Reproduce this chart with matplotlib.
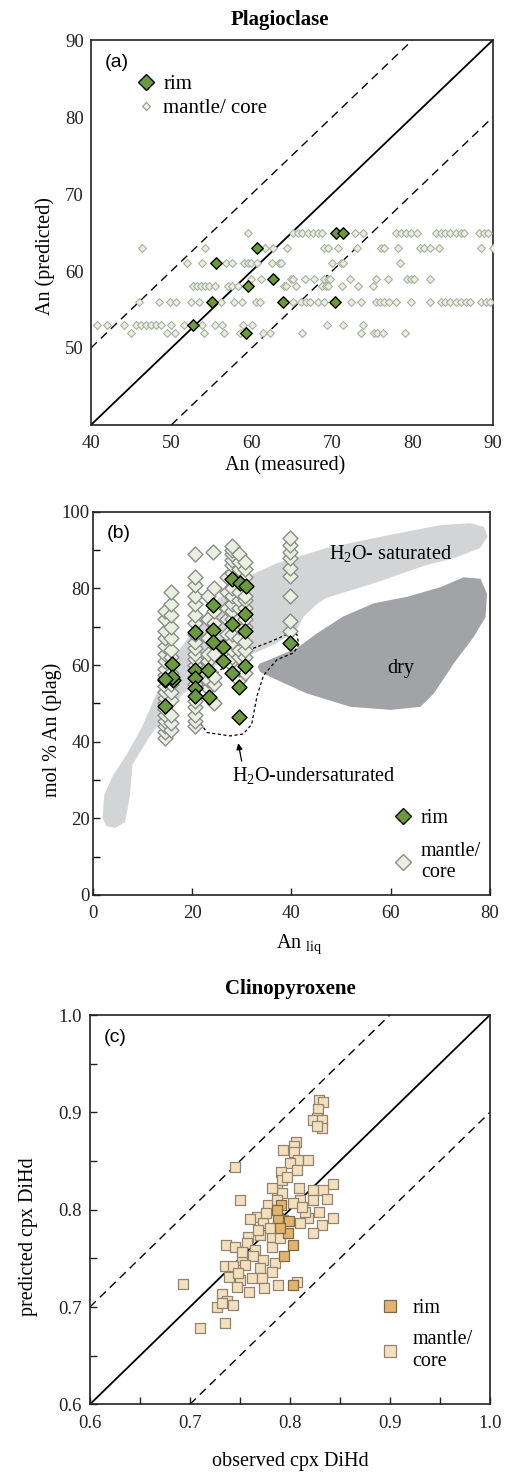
import matplotlib
matplotlib.use('Agg')
import matplotlib.pyplot as plt
from matplotlib.lines import Line2D
from matplotlib.patches import Polygon

plt.rcParams['font.family'] = 'Liberation Serif'
plt.rcParams['mathtext.fontset'] = 'custom'
plt.rcParams['mathtext.rm'] = 'Liberation Serif'
plt.rcParams['mathtext.it'] = 'Liberation Serif:italic'

# ---- (a) plagioclase: predicted vs measured An ----
# mantle/core analyses sit on discrete predicted levels
core_levels = [65, 63, 61, 59, 58, 56, 53, 52]
core_meas = [
    [59.5, 65.1, 65.7, 66.3, 67.0, 67.6, 68.2, 68.8, 70.5, 72.9, 73.9, 78.0, 78.6,
     79.2, 79.8, 80.5, 82.9, 83.5, 84.1, 84.7, 85.4, 86.0, 86.4, 88.3, 88.9, 89.4],
    [46.4, 54.2, 61.6, 62.6, 64.4, 69.0, 69.5, 70.7, 73.1, 76.1, 76.4, 78.2, 80.9,
     81.4, 82.2, 83.3, 88.5, 90.0],
    [52.0, 53.8, 56.8, 57.6, 59.1, 59.5, 59.9, 60.6, 62.5, 63.4, 63.7, 70.0, 71.1,
     71.4, 78.4],
    [59.9, 61.1, 64.9, 65.2, 66.6, 67.8, 69.0, 69.5, 69.8, 72.2, 75.5, 76.9, 79.3,
     79.8, 80.2, 82.2],
    [52.7, 53.2, 53.7, 54.2, 54.7, 55.4, 57.1, 57.6, 58.3, 64.0, 64.3, 65.5, 68.8,
     69.3, 69.5, 71.2, 73.2, 75.1],
    [46.0, 48.5, 49.8, 50.6, 52.4, 53.5, 56.2, 57.8, 58.8, 60.5, 61.0, 65.1, 66.1,
     66.8, 67.2, 68.2, 69.0, 72.4, 73.6, 75.5, 76.0, 76.5, 77.1, 78.0, 79.8, 82.2,
     83.5, 84.1, 84.7, 85.4, 86.0, 86.6, 87.2, 88.5, 89.1, 89.6],
    [40.8, 42.0, 44.1, 45.6, 46.2, 46.8, 47.5, 48.1, 48.7, 50.0, 51.6, 53.8, 55.4,
     56.3, 58.9, 60.1, 69.4, 71.3, 73.8],
    [45.0, 49.5, 50.4, 54.1, 56.5, 58.5, 61.4, 62.3, 66.3, 73.6, 75.2, 75.6, 76.3,
     79.1],
]
rim_meas = [70.5, 71.3, 60.7, 55.6, 62.7, 59.5, 55.1, 63.9, 70.4, 52.7, 59.3]
rim_pred = [65.0, 65.0, 63.0, 61.0, 59.0, 58.0, 56.0, 56.0, 56.0, 53.0, 52.0]

# ---- (b) An plag vs An liquid ----
rim_liq = [14.6, 15.9, 16.1, 14.6, 20.6, 20.6, 20.6, 20.6, 20.6, 23.3, 23.5, 24.3,
           24.3, 24.3, 26.3, 26.3, 28.0, 29.7, 30.9, 28.0, 30.6, 30.6, 30.6, 28.0,
           29.4, 29.4, 39.8, 15.9, 14.6]
rim_plag = [56.0, 60.3, 56.0, 49.2, 68.7, 58.7, 56.6, 54.0, 52.0, 58.7, 51.7, 75.7,
            69.2, 66.1, 64.8, 61.0, 82.5, 81.4, 80.5, 70.8, 73.2, 68.8, 59.8, 58.0,
            54.2, 46.5, 65.8, 56.8, 56.4]
core_liq = [
    14.6, 14.6, 14.6, 14.6, 14.6, 14.6, 14.6, 14.6, 14.6, 14.6, 14.6, 14.6, 14.6,
    14.6, 14.6, 14.6, 14.6, 14.6, 14.6,
    15.8, 15.8, 15.8, 15.8, 15.8, 15.8, 15.8, 15.8, 15.8, 15.8, 15.8, 15.8, 15.8, 15.8,
    20.6, 20.6, 20.6, 20.6, 20.6, 20.6, 20.6, 20.6, 20.6, 20.6, 20.6, 20.6, 20.6,
    20.6, 20.6, 20.6, 20.6, 20.6, 20.6, 20.6,
    23.3, 23.3, 23.3, 23.3, 23.3, 23.3, 23.3, 24.3,
    24.5, 24.5, 24.5, 24.5, 24.5, 24.5, 24.5,
    27.0, 27.0, 27.0, 27.0, 27.0, 27.0, 27.0,
    28.0, 28.0, 28.0, 28.0, 28.0, 28.0, 28.0, 28.0, 28.0, 28.0, 28.0, 28.0, 28.0,
    28.0, 28.0, 28.0,
    29.4, 29.4, 29.4, 29.4, 29.4, 29.4, 29.4, 29.4, 29.4, 29.4, 29.4, 29.4, 29.4, 29.4,
    30.7, 30.7, 30.7, 30.7, 30.7, 30.7, 30.7, 30.7, 30.7, 30.7, 30.7, 30.7,
    39.8, 39.8, 39.8, 39.8, 39.8, 39.8, 39.8, 39.8, 39.8,
]
core_plag = [
    41, 42.5, 44, 45.5, 47, 48.5, 50, 51.5, 53, 54.5, 57.5, 59, 61, 63, 65, 67, 69,
    72, 74,
    43, 45, 47, 51, 53, 55, 58, 62, 64, 67, 70, 73, 76, 79,
    44, 45.5, 47, 49, 50.5, 55, 57, 60, 61.5, 63, 64.5, 66, 68, 71, 73, 76, 78, 81,
    83, 89,
    54, 56, 61, 63, 67, 72, 78, 89.5,
    50, 55, 57, 63, 71, 74, 80,
    62, 66, 68, 72, 75, 79, 83,
    60, 62, 64, 66, 68, 72, 74, 76, 78, 80, 84, 86, 87.5, 89, 90, 91,
    56, 59, 62, 64, 67, 70, 72, 75, 77, 79, 83, 85, 87, 89,
    58, 62, 64, 66, 70, 72, 75, 77, 78, 83, 85, 87,
    68.8, 71.4, 77.9, 83.1, 85.3, 87.9, 89.6, 91.4, 93.1,
]

# experimental fields (An liq, An plag)
sat_x = [2.0, 2.3, 4.0, 7.0, 10.0, 13.0, 17.5, 24.0, 31.0, 37.0, 47.0, 60.0, 70.0,
         76.0, 78.8, 79.5, 78.0, 73.0, 67.0, 57.0, 47.0, 45.0, 42.5, 41.0, 37.0,
         33.0, 25.0, 20.4, 17.9, 14.6, 11.3, 8.0, 7.5, 6.5, 4.5, 2.8]
sat_y = [20.0, 26.0, 31.0, 37.0, 44.0, 53.0, 64.0, 76.0, 83.0, 86.5, 90.5, 94.0,
         96.5, 97.0, 96.0, 93.5, 90.5, 88.0, 86.0, 81.5, 77.5, 75.7, 72.7, 69.0,
         65.7, 63.3, 60.0, 55.0, 52.0, 47.0, 41.0, 34.0, 26.0, 19.0, 17.5, 18.0]
dry_x = [33.7, 37.1, 41.1, 45.2, 50.5, 56.6, 63.3, 70.0, 74.7, 78.1, 79.4, 79.1,
         76.7, 72.7, 68.7, 66.0, 60.0, 51.9, 43.1, 37.1, 33.7, 33.2]
dry_y = [60.4, 62.2, 64.4, 68.3, 72.7, 76.1, 77.8, 80.3, 82.9, 82.5, 78.6, 72.5,
         67.3, 60.4, 52.6, 49.1, 48.3, 49.1, 52.6, 56.1, 58.2, 59.5]
under_x = [21.6, 20.9, 23.0, 27.7, 30.3, 32.0, 33.1, 34.4, 37.1, 40.5, 41.5, 41.1,
           39.1, 35.8, 32.4, 29.0, 25.5, 21.6]
under_y = [53.3, 46.3, 42.4, 41.5, 42.0, 44.5, 52.0, 57.3, 61.4, 63.2, 65.4, 68.0,
           68.0, 66.1, 64.4, 61.9, 58.5, 53.3]

# ---- (c) clinopyroxene DiHd ----
cpx_rim_obs = [0.791, 0.788, 0.799, 0.798, 0.803, 0.794, 0.803, 0.787, 0.790]
cpx_rim_pred = [0.805, 0.791, 0.788, 0.776, 0.764, 0.752, 0.723, 0.800, 0.781]
cpx_core_obs = [
    0.829, 0.833, 0.828, 0.827, 0.823, 0.832, 0.832, 0.827, 0.806, 0.804, 0.793,
    0.804, 0.808, 0.818, 0.800, 0.745, 0.791, 0.792, 0.787, 0.792, 0.809, 0.843,
    0.823, 0.833, 0.750, 0.778, 0.810, 0.823, 0.837, 0.803, 0.829, 0.818, 0.843,
    0.767, 0.760, 0.773, 0.810, 0.832, 0.823, 0.758, 0.770, 0.782, 0.736, 0.745,
    0.757, 0.765, 0.782, 0.790, 0.752, 0.763, 0.773, 0.785, 0.735, 0.743, 0.755,
    0.770, 0.782, 0.739, 0.750, 0.762, 0.772, 0.693, 0.747, 0.759, 0.774, 0.788,
    0.807, 0.732, 0.737, 0.743, 0.727, 0.710, 0.735, 0.732, 0.793, 0.787, 0.782,
    0.797, 0.807, 0.776, 0.780, 0.768, 0.752, 0.748, 0.815, 0.812,
]
cpx_core_pred = [
    0.913, 0.911, 0.903, 0.894, 0.892, 0.892, 0.884, 0.886, 0.870, 0.865, 0.861,
    0.859, 0.851, 0.851, 0.848, 0.844, 0.839, 0.831, 0.820, 0.817, 0.822, 0.826,
    0.820, 0.820, 0.810, 0.805, 0.810, 0.810, 0.811, 0.807, 0.798, 0.791, 0.791,
    0.793, 0.790, 0.786, 0.786, 0.784, 0.776, 0.772, 0.774, 0.772, 0.764, 0.762,
    0.766, 0.759, 0.762, 0.771, 0.748, 0.752, 0.748, 0.745, 0.742, 0.742, 0.743,
    0.740, 0.736, 0.731, 0.728, 0.730, 0.730, 0.724, 0.721, 0.715, 0.720, 0.723,
    0.726, 0.713, 0.706, 0.702, 0.700, 0.678, 0.684, 0.704, 0.789, 0.810, 0.822,
    0.834, 0.841, 0.797, 0.781, 0.779, 0.757, 0.735, 0.798, 0.803,
]

RIM_GREEN = '#6a9a3c'
CORE_GREEN = '#e9f0df'
RIM_CPX = '#e3b46e'
CORE_CPX = '#f5e0be'
DASH = (0, (6, 4))

fig = plt.figure(figsize=(5.05, 14.73), dpi=100)


def frame(ax):
    for s in ax.spines.values():
        s.set_linewidth(1.2)
        s.set_color('#222222')


# ---------------- panel (a) ----------------
ax = fig.add_axes([0.180, 0.7115, 0.796, 0.2613])
frame(ax)
ax.plot([40, 90], [40, 90], color='k', lw=1.3, zorder=2)
ax.plot([40, 80], [50, 90], color='k', lw=1.0, ls=DASH, zorder=2)
ax.plot([50, 90], [40, 80], color='k', lw=1.0, ls=DASH, zorder=2)
for lev, xs in zip(core_levels, core_meas):
    ax.scatter(xs, [lev] * len(xs), marker='D', s=16, facecolor=CORE_GREEN,
               edgecolor='#a9afa2', linewidth=0.8, zorder=3)
ax.scatter(rim_meas, rim_pred, marker='D', s=34, facecolor=RIM_GREEN,
           edgecolor='k', linewidth=1.0, zorder=4)
ax.set_xlim(40, 90)
ax.set_ylim(40, 90)
ax.set_xticks([40, 50, 60, 70, 80, 90])
ax.set_yticks([50, 60, 70, 80, 90])
ax.tick_params(length=0, labelsize=13.5, colors='#222222')
ax.tick_params(axis='x', pad=7)
ax.tick_params(axis='y', pad=5)
ax.set_xlabel('An (measured)', fontsize=14.5)
ax.xaxis.set_label_coords(0.483, -0.082)
ax.set_ylabel('An (predicted)', fontsize=14.5)
ax.yaxis.set_label_coords(-0.09, 0.44)
ax.text(0.035, 0.965, '(a)', transform=ax.transAxes, family='Liberation Sans',
        fontsize=14, va='top', ha='left')
h = [Line2D([], [], marker='D', ls='none', ms=8.5, mfc=RIM_GREEN, mec='k', mew=1.0),
     Line2D([], [], marker='D', ls='none', ms=4.5, mfc=CORE_GREEN, mec='#8f968a', mew=0.8)]
ax.legend(h, ['rim', 'mantle/ core'], loc='upper left', bbox_to_anchor=(0.11, 0.91),
          frameon=False, fontsize=15, handlelength=1.0, handletextpad=0.35,
          labelspacing=0.2, borderpad=0, borderaxespad=0)
fig.text(0.555, 0.9865, 'Plagioclase', ha='center', va='center', fontsize=15,
         fontweight='bold')

# ---------------- panel (b) ----------------
ax = fig.add_axes([0.1836, 0.3924, 0.7867, 0.2602])
frame(ax)
ax.add_patch(Polygon(list(zip(sat_x, sat_y)), closed=True, facecolor='#d3d4d6',
                     edgecolor='none', zorder=1))
ax.add_patch(Polygon(list(zip(dry_x, dry_y)), closed=True, facecolor='#a2a3a7',
                     edgecolor='none', zorder=1))
ax.plot(under_x, under_y, color='k', lw=0.9, ls=(0, (2.5, 2)), zorder=2)
ax.scatter(core_liq, core_plag, marker='D', s=58, facecolor=CORE_GREEN,
           edgecolor='#8c8c8c', linewidth=1.0, zorder=3)
ax.scatter(rim_liq, rim_plag, marker='D', s=58, facecolor=RIM_GREEN,
           edgecolor='k', linewidth=1.0, zorder=4)
ax.annotate('', xy=(29.2, 40.3), xytext=(30.1, 34.2),
            arrowprops=dict(arrowstyle='-|>', color='k', lw=0.9, mutation_scale=9),
            zorder=5)
ax.text(44.5, 31.3, r'H$_2$O-undersaturated', ha='center', va='center', fontsize=14.5)
ax.text(47.5, 89.2, r'H$_2$O- saturated', ha='left', va='center', fontsize=14.5)
ax.text(62, 59, 'dry', ha='center', va='center', fontsize=14.5)
ax.set_xlim(0, 80)
ax.set_ylim(0, 100)
ax.set_xticks([0, 20, 40, 60, 80])
ax.set_yticks([0, 20, 40, 60, 80, 100])
ax.set_yticks([10, 30, 50, 70, 90], minor=True)
ax.tick_params(direction='in', length=5, width=1.0, labelsize=13.5, colors='#222222')
ax.tick_params(which='minor', direction='in', length=5, width=1.0)
ax.tick_params(axis='x', pad=7)
ax.tick_params(axis='y', pad=2)
ax.set_xlabel(r'An $_{\mathrm{liq}}$', fontsize=14.5)
ax.xaxis.set_label_coords(0.52, -0.097)
ax.set_ylabel('mol % An (plag)', fontsize=14.5)
ax.yaxis.set_label_coords(-0.078, 0.43)
ax.text(0.035, 0.965, '(b)', transform=ax.transAxes, family='Liberation Sans',
        fontsize=14, va='top', ha='left')
h = [Line2D([], [], marker='D', ls='none', ms=8.5, mfc=RIM_GREEN, mec='k', mew=1.0),
     Line2D([], [], marker='D', ls='none', ms=8.5, mfc=CORE_GREEN, mec='#8c8c8c', mew=1.0)]
ax.legend(h, ['rim', 'mantle/\ncore'], loc='lower left', bbox_to_anchor=(0.755, 0.033),
          frameon=False, fontsize=14.5, handlelength=1.0, handletextpad=0.4,
          labelspacing=0.65, borderpad=0, borderaxespad=0)

# ---------------- panel (c) ----------------
ax = fig.add_axes([0.178, 0.0466, 0.792, 0.2643])
frame(ax)
ax.plot([0.6, 1.0], [0.6, 1.0], color='k', lw=1.3, zorder=2)
ax.plot([0.6, 0.9], [0.7, 1.0], color='k', lw=1.0, ls=DASH, zorder=2)
ax.plot([0.7, 1.0], [0.6, 0.9], color='k', lw=1.0, ls=DASH, zorder=2)
ax.scatter(cpx_core_obs, cpx_core_pred, marker='s', s=55, facecolor=CORE_CPX,
           edgecolor='#8f8570', linewidth=0.9, zorder=3)
ax.scatter(cpx_rim_obs, cpx_rim_pred, marker='s', s=55, facecolor=RIM_CPX,
           edgecolor='#7d6a48', linewidth=0.9, zorder=4)
ax.set_xlim(0.6, 1.0)
ax.set_ylim(0.6, 1.0)
ax.set_xticks([0.6, 0.7, 0.8, 0.9, 1.0])
ax.set_yticks([0.6, 0.7, 0.8, 0.9, 1.0])
ax.set_xticks([0.65, 0.75, 0.85, 0.95], minor=True)
ax.set_yticks([0.65, 0.75, 0.85, 0.95], minor=True)
ax.set_xticklabels(['0.6', '0.7', '0.8', '0.9', '1.0'])
ax.set_yticklabels(['0.6', '0.7', '0.8', '0.9', '1.0'])
ax.tick_params(which='both', direction='in', length=5, width=1.0, labelsize=13.5,
               colors='#222222')
ax.tick_params(axis='x', pad=8)
ax.tick_params(axis='y', pad=6)
ax.set_xlabel('observed cpx DiHd', fontsize=14.5)
ax.xaxis.set_label_coords(0.5, -0.122)
ax.set_ylabel('predicted cpx DiHd', fontsize=14.5)
ax.yaxis.set_label_coords(-0.13, 0.43)
ax.text(0.035, 0.965, '(c)', transform=ax.transAxes, family='Liberation Sans',
        fontsize=14, va='top', ha='left')
h = [Line2D([], [], marker='s', ls='none', ms=9, mfc=RIM_CPX, mec='#7d6a48', mew=0.9),
     Line2D([], [], marker='s', ls='none', ms=9, mfc=CORE_CPX, mec='#8f8570', mew=0.9)]
ax.legend(h, ['rim', 'mantle/\ncore'], loc='lower left', bbox_to_anchor=(0.725, 0.085),
          frameon=False, fontsize=14.5, handlelength=1.0, handletextpad=0.6,
          labelspacing=0.6, borderpad=0, borderaxespad=0)
fig.text(0.575, 0.3285, 'Clinopyroxene', ha='center', va='center', fontsize=15,
         fontweight='bold')

fig.savefig('out.png', dpi=100)
